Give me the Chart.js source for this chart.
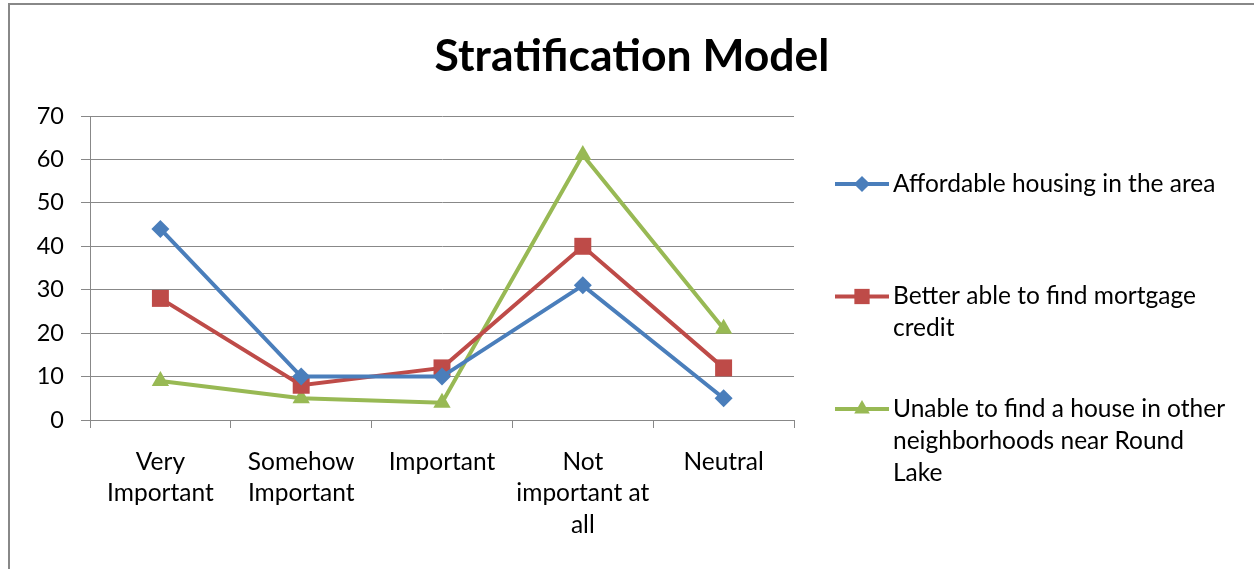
<!DOCTYPE html>
<html>
<head>
<meta charset="utf-8">
<script src="https://cdn.jsdelivr.net/npm/chart.js@4.4.0/dist/chart.umd.min.js"></script>
<style>
  html, body { margin: 0; padding: 0; background: #fff; overflow: hidden; }
  .frame { position: absolute; left: 8px; top: 3px; width: 1400px; height: 800px; border: 2px solid #888; box-sizing: border-box; }
  .wrap { position: absolute; left: 0; top: 0; width: 1254px; height: 569px; }
</style>
</head>
<body>
<div class="frame"></div>
<div class="wrap"><canvas id="chart" width="1254" height="569"></canvas></div>
<script>
// categories (multi-line labels as on the x axis)
const categories = [["Very", "Important"], ["Somehow", "Important"], ["Important"], ["Not", "important at", "all"], ["Neutral"]];

// series names, split the way the legend wraps them
const seriesNames = [
  ["Affordable housing in the area"],
  ["Better able to find mortgage", "credit"],
  ["Unable to find a house in other", "neighborhoods near Round", "Lake"]
];

const affordable = [44, 10, 10, 31, 5];
const mortgage = [28, 8, 12, 40, 12];
const unable = [9, 5, 4, 61, 21];

const yTicks = [0, 10, 20, 30, 40, 50, 60, 70];

const colors = ['#4a7ebb', '#be4b48', '#98b954'];
const styles = ['rectRot', 'rect', 'triangle'];
const radii = [9, 12, 10];

const FONT = 'Lato';
const TITLE = 'Stratification Model';

// small marker painter for the legend
function marker(ctx, style, x, y, r) {
  ctx.beginPath();
  if (style === 'rectRot') {
    ctx.moveTo(x - r, y); ctx.lineTo(x, y - r); ctx.lineTo(x + r, y); ctx.lineTo(x, y + r);
  } else if (style === 'rect') {
    const s = r * Math.SQRT1_2;
    ctx.rect(x - s, y - s, 2 * s, 2 * s);
  } else {
    ctx.moveTo(x, y - r);
    ctx.lineTo(x + r * Math.sin(Math.PI * 2 / 3), y - r * Math.cos(Math.PI * 2 / 3));
    ctx.lineTo(x + r * Math.sin(Math.PI * 4 / 3), y - r * Math.cos(Math.PI * 4 / 3));
  }
  ctx.closePath();
  ctx.fill();
}

const sideLegend = {
  id: 'sideLegend',
  afterDraw(chart) {
    const ctx = chart.ctx;
    ctx.save();
    // title, centred on the whole picture
    ctx.font = 'bold 44.5px ' + FONT;
    ctx.fillStyle = '#000';
    ctx.textAlign = 'center';
    ctx.textBaseline = 'middle';
    ctx.fillText(TITLE, 632, 57);

    ctx.font = '24.5px ' + FONT;
    ctx.textAlign = 'left';
    chart.data.datasets.forEach((ds, i) => {
      const y = 184 + i * 112.5;
      ctx.strokeStyle = ds.borderColor;
      ctx.fillStyle = ds.borderColor;
      ctx.lineWidth = 4;
      ctx.beginPath();
      ctx.moveTo(835, y);
      ctx.lineTo(889, y);
      ctx.stroke();
      marker(ctx, ds.pointStyle, 862, y, ds.pointRadius * 0.9);
      ctx.fillStyle = '#000';
      seriesNames[i].forEach((line, j) => ctx.fillText(line, 893, y + j * 32));
    });
    ctx.restore();
  }
};

const series = [affordable, mortgage, unable];

new Chart(document.getElementById('chart'), {
  type: 'line',
  data: {
    labels: categories,
    datasets: series.map((d, i) => ({
      label: seriesNames[i].join(' '),
      data: d,
      borderColor: colors[i],
      backgroundColor: colors[i],
      pointBackgroundColor: colors[i],
      pointBorderColor: colors[i],
      pointBorderWidth: 0,
      pointStyle: styles[i],
      pointRadius: radii[i],
      borderWidth: 4,
      tension: 0
    }))
  },
  options: {
    responsive: false,
    animation: false,
    layout: { padding: { left: 0, right: 460, top: 116, bottom: 0 } },
    plugins: {
      legend: { display: false },
      tooltip: { enabled: false },
      title: { display: false }
    },
    scales: {
      x: {
        offset: true,
        grid: { offset: true, drawOnChartArea: false, tickLength: 8, color: '#888' },
        border: { color: '#888' },
        ticks: {
          color: '#000',
          font: { family: FONT, size: 24.5, lineHeight: 1.29 },
          padding: 18,
          maxRotation: 0,
          autoSkip: false
        },
        afterFit: s => { s.height = 149; }
      },
      y: {
        min: 0,
        max: 70,
        afterBuildTicks: s => { s.ticks = yTicks.map(v => ({ value: v })); },
        grid: { color: '#888', tickLength: 9 },
        border: { color: '#888' },
        ticks: { color: '#000', font: { family: FONT, size: 23.5 }, padding: 17 },
        afterFit: s => { s.width = 90; }
      }
    }
  },
  plugins: [sideLegend]
});
</script>
</body>
</html>
